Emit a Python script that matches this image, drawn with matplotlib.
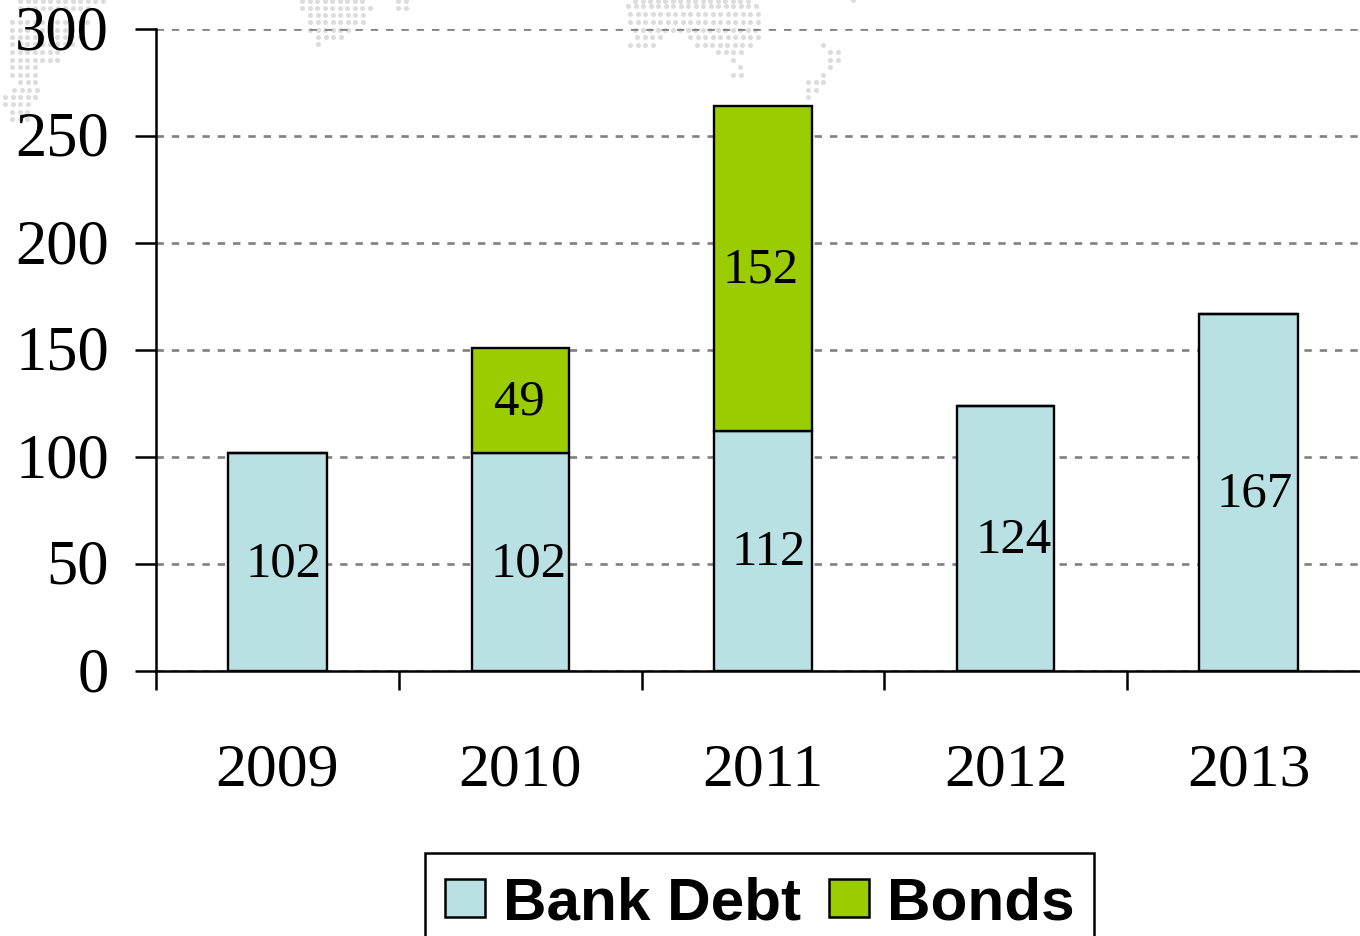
import numpy as np
import matplotlib
matplotlib.use("Agg")
import matplotlib.pyplot as plt
from matplotlib.patches import Patch, Rectangle
from matplotlib.transforms import ScaledTranslation

years = ["2009", "2010", "2011", "2012", "2013"]
bank_debt = [102, 102, 112, 124, 167]
bonds = [0, 49, 152, 0, 0]
yticks = [0, 50, 100, 150, 200, 250, 300]

# small shifts of the value labels, in pixels
bank_label_dx = [6, 8, 6, 8, 6]
bond_label_dx = [0, -1, -2, 0, 0]
label_dy = -2

BLUE = "#b9e0e3"
GREEN = "#9bcc00"
SERIF = "Liberation Serif"

# world map backdrop: rows of dots as (y, x start, x end)
map_rows = [
    (1, 20, 105), (8, 20, 90), (22, 12, 92), (30, 12, 85), (37, 12, 80),
    (44, 12, 75), (52, 12, 62), (60, 12, 60), (67, 12, 40), (75, 12, 40),
    (82, 20, 40), (90, 14, 40), (97, 5, 40), (104, 5, 30), (112, 12, 30), (119, 12, 30),
    (1, 302, 365), (8, 302, 372), (15, 310, 365), (22, 310, 365), (30, 310, 350),
    (37, 318, 340), (44, 318, 320), (1, 398, 410), (8, 398, 410),
    (1, 635, 752), (6, 628, 758), (14, 630, 758), (22, 630, 758), (30, 635, 758),
    (37, 637, 660), (37, 690, 758), (45, 630, 655), (45, 697, 750), (52, 718, 745),
    (60, 733, 737), (67, 740, 743), (75, 733, 743),
    (45, 823, 826), (52, 830, 840), (60, 830, 840), (67, 830, 833), (75, 823, 826),
    (82, 808, 826), (90, 808, 818), (97, 808, 810), (0, 853, 855),
]

fig = plt.figure(figsize=(13.6, 9.36), dpi=100)

bg = fig.add_axes([0, 0, 1, 1], zorder=0)
bg.set_xlim(0, 1360)
bg.set_ylim(936, 0)
bg.axis("off")
for y, x0, x1 in map_rows:
    xs = np.arange(x0, x1 + 1, 7.5)
    bg.scatter(xs, [y] * len(xs), s=13, color="#dcdcdc", linewidths=0)

# legend box runs off the bottom edge
bg.add_patch(Rectangle((425, 853), 669, 110, facecolor="white", edgecolor="black", linewidth=1.8))

ax = fig.add_axes([156 / 1360, 265 / 936, 1204 / 1360, 642 / 936], zorder=1)
ax.patch.set_visible(False)

x = np.arange(len(years))
widths = [0.407, 0.4, 0.407, 0.4, 0.407]
ax.bar(x, bank_debt, width=widths, color=BLUE, edgecolor="black", linewidth=1.7, zorder=3)
ax.bar(x, bonds, width=widths, bottom=bank_debt, color=GREEN, edgecolor="black", linewidth=1.7, zorder=3)

for i in range(len(years)):
    ax.annotate(str(bank_debt[i]), (x[i], bank_debt[i] / 2), xytext=(bank_label_dx[i] * 0.72, label_dy * 0.72),
                textcoords="offset points", ha="center", va="center",
                fontsize=36.5, family=SERIF, zorder=4)
    if bonds[i] > 0:
        ax.annotate(str(bonds[i]), (x[i], bank_debt[i] + bonds[i] / 2), xytext=(bond_label_dx[i] * 0.72, label_dy * 0.72),
                    textcoords="offset points", ha="center", va="center",
                    fontsize=36.5, family=SERIF, zorder=4)

ax.set_xlim(-0.5, -0.5 + 1204 / 242.8)
ax.set_ylim(0, 300)

ax.set_yticks(yticks)
ax.set_xticks(x)
ax.set_xticklabels(years)
ax.set_xticks(np.arange(len(years)) - 0.5, minor=True)
ax.tick_params(axis="x", which="major", length=0, pad=52)
ax.tick_params(axis="x", which="minor", length=14, width=1.8, direction="out")
ax.tick_params(axis="y", length=15, width=1.8, pad=19)
for label in ax.get_xticklabels():
    label.set_fontsize(44.5)
    label.set_family(SERIF)
for label in ax.get_yticklabels():
    label.set_fontsize(45)
    label.set_family(SERIF)
    label.set_transform(label.get_transform() + ScaledTranslation(0, 2 / 100, fig.dpi_scale_trans))

ax.grid(axis="y", color="#808080", linewidth=1.9, linestyle=(0, (2.8, 3.0)), zorder=1)
ax.set_axisbelow(True)

ax.spines["top"].set_visible(False)
ax.spines["right"].set_visible(False)
ax.spines["left"].set_linewidth(1.8)
ax.spines["bottom"].set_linewidth(1.8)

handles = [Patch(facecolor=BLUE, edgecolor="black", linewidth=1.8, label="Bank Debt"),
           Patch(facecolor=GREEN, edgecolor="black", linewidth=1.8, label="Bonds")]
fig.legend(handles=handles, ncol=2, loc="lower left", bbox_to_anchor=(445 / 1360, 4.5 / 936),
           prop={"family": "Liberation Sans", "weight": "bold", "size": 43.4},
           frameon=False, borderpad=0,
           handlelength=0.66, handleheight=0.6, handletextpad=0.30, columnspacing=0.465,
           borderaxespad=0)

fig.savefig("out.png", dpi=100)
